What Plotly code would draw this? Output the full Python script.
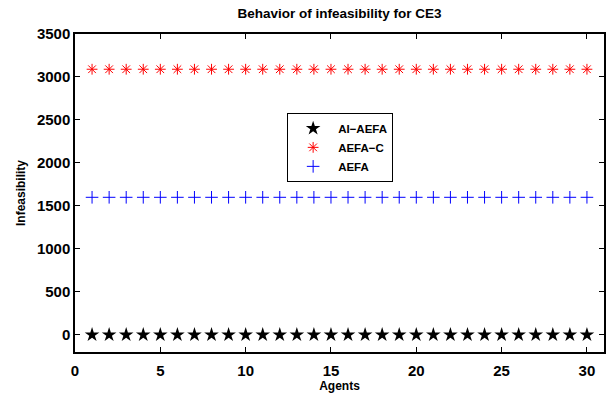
import plotly.graph_objects as go

agents = list(range(1, 31))
ai_aefa = [0] * 30
aefa_c = [3090] * 30
aefa = [1600] * 30

x_ticks = [0, 5, 10, 15, 20, 25, 30]
y_ticks = [0, 500, 1000, 1500, 2000, 2500, 3000, 3500]

FONT = "Liberation Sans, Arial, sans-serif"

fig = go.Figure()
fig.add_trace(go.Scatter(
    x=agents, y=ai_aefa, mode="markers", name="AI\u2212AEFA",
    marker=dict(symbol="star", size=11, color="black", line=dict(width=0)),
))
fig.add_trace(go.Scatter(
    x=agents, y=aefa_c, mode="markers", name="AEFA\u2212C",
    marker=dict(symbol="asterisk-open", size=9, color="red",
                line=dict(width=1, color="red")),
))
fig.add_trace(go.Scatter(
    x=agents, y=aefa, mode="markers", name="AEFA",
    marker=dict(symbol="cross-thin-open", size=9, color="blue",
                line=dict(width=1, color="blue")),
))

axis_common = dict(
    showgrid=False, zeroline=False, showline=True, linecolor="black",
    linewidth=1.5, mirror="ticks", ticks="inside", ticklen=5,
    tickcolor="black", tickwidth=1,
    tickfont=dict(family=FONT, size=15, color="black", weight="bold"),
)

fig.update_layout(
    width=613, height=396,
    margin=dict(l=75, r=7, t=34, b=44),
    paper_bgcolor="white", plot_bgcolor="white",
    title=dict(text="<b>Behavior of infeasibility for CE3</b>",
               x=0.5, xanchor="center", xref="paper", y=0.955, yanchor="bottom",
               font=dict(family=FONT, size=13.5, color="black")),
    xaxis=dict(range=[0, 31], tickvals=x_ticks, ticklabelstandoff=4,
               title=dict(text="<b>Agents</b>", standoff=0,
                          font=dict(family=FONT, size=12, color="black")),
               **axis_common),
    yaxis=dict(range=[-200, 3500], tickvals=y_ticks,
               title=dict(text="<b>Infeasibility</b>", standoff=9,
                          font=dict(family=FONT, size=12, color="black")),
               **axis_common),
    legend=dict(x=0.401, y=0.752, xanchor="left", yanchor="top",
                bgcolor="white", bordercolor="black", borderwidth=1,
                font=dict(family=FONT, size=11.5, color="black", weight="bold"),
                itemsizing="trace", itemwidth=40, tracegroupgap=0),
    showlegend=True,
)

fig.write_html("out.html")
